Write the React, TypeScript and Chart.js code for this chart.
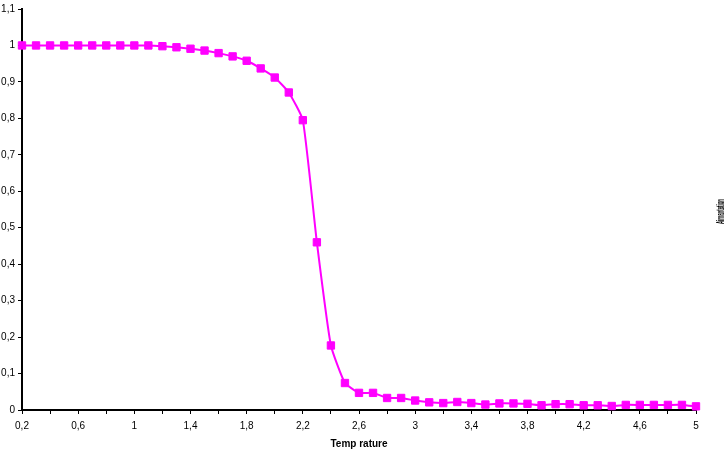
import React, { useEffect, useRef } from "react";
import { Chart, registerables } from "chart.js";

Chart.register(...registerables);

const temperatures = [
  0.2, 0.3, 0.4, 0.5, 0.6, 0.7, 0.8, 0.9, 1.0, 1.1,
  1.2, 1.3, 1.4, 1.5, 1.6, 1.7, 1.8, 1.9, 2.0, 2.1,
  2.2, 2.3, 2.4, 2.5, 2.6, 2.7, 2.8, 2.9, 3.0, 3.1,
  3.2, 3.3, 3.4, 3.5, 3.6, 3.7, 3.8, 3.9, 4.0, 4.1,
  4.2, 4.3, 4.4, 4.5, 4.6, 4.7, 4.8, 4.9, 5.0,
];

const magnetization = [
  1.0, 1.0, 1.0, 1.0, 1.0, 1.0, 1.0, 1.0, 1.0, 1.0,
  0.998, 0.995, 0.991, 0.986, 0.979, 0.97, 0.958, 0.937, 0.912, 0.871,
  0.795, 0.46, 0.177, 0.074, 0.047, 0.047, 0.033, 0.033, 0.026, 0.021,
  0.019, 0.022, 0.019, 0.015, 0.018, 0.018, 0.017, 0.013, 0.016, 0.016,
  0.013, 0.013, 0.011, 0.014, 0.014, 0.014, 0.014, 0.014, 0.01,
];

const xAxisTitle = "Temp rature";
const yAxisTitle = "Aimantation";

const fmt = (v: number) => String(+v.toFixed(1)).replace(".", ",");

const rightTitlePlugin = {
  id: "rightTitle",
  afterDraw(chart: any) {
    const { ctx, chartArea } = chart;
    ctx.save();
    ctx.translate(chart.width - 5, (chartArea.top + chartArea.bottom) / 2 + 2);
    ctx.rotate(-Math.PI / 2);
    ctx.font = "bold 10px 'Liberation Sans'";
    ctx.fillStyle = "#000";
    ctx.textAlign = "center";
    ctx.textBaseline = "middle";
    ctx.fillText(yAxisTitle, 0, 0, 25);
    ctx.restore();
  },
};

export default function App() {
  const ref = useRef<HTMLCanvasElement>(null);

  useEffect(() => {
    if (!ref.current) return;
    const chart = new Chart(ref.current, {
      type: "line",
      data: {
        datasets: [
          {
            data: temperatures.map((t, i) => ({ x: t, y: magnetization[i] })),
            borderColor: "#FF00FF",
            backgroundColor: "#FF00FF",
            borderWidth: 2,
            pointStyle: "rect",
            pointRadius: 5.2,
            pointBorderWidth: 1,
            pointBorderColor: "#FF00FF",
            pointBackgroundColor: "#FF00FF",
            tension: 0.15,
            clip: false as any,
          },
        ],
      },
      options: {
        animation: false,
        responsive: false,
        maintainAspectRatio: false,
        layout: { padding: { top: 4, right: 30, left: 0, bottom: 0 } },
        plugins: { legend: { display: false }, tooltip: { enabled: false } },
        scales: {
          x: {
            type: "linear",
            min: 0.2,
            max: 5,
            afterFit: (s: any) => {
              s.height = 42;
            },
            ticks: {
              stepSize: 0.2,
              autoSkip: false,
              maxRotation: 0,
              padding: 6,
              color: "#000",
              font: { family: "'Liberation Sans'", size: 10 },
              callback: (v: any) => {
                const n = Math.round(Number(v) * 10);
                return n % 4 === 2 ? fmt(Number(v)) : "";
              },
            },
            grid: {
              display: true,
              drawOnChartArea: false,
              drawTicks: true,
              tickLength: 4,
              color: "#000",
              lineWidth: 1,
            },
            border: { display: true, color: "#000", width: 2 },
            title: {
              display: true,
              text: xAxisTitle,
              color: "#000",
              font: { family: "'Liberation Sans'", size: 10, weight: "bold" },
              padding: { top: 0, bottom: 2 },
            },
          },
          y: {
            type: "linear",
            min: 0,
            max: 1.1,
            afterFit: (s: any) => {
              s.width = 22;
            },
            ticks: {
              stepSize: 0.1,
              padding: 3,
              color: "#000",
              font: { family: "'Liberation Sans'", size: 10 },
              callback: (v: any) => fmt(Number(v)),
            },
            grid: {
              display: true,
              drawOnChartArea: false,
              drawTicks: true,
              tickLength: 4,
              color: "#000",
              lineWidth: 1,
            },
            border: { display: true, color: "#000", width: 2 },
          },
        },
      },
      plugins: [rightTitlePlugin],
    });
    return () => chart.destroy();
  }, []);

  return (
    <div style={{ position: "fixed", left: 0, top: 0, width: 726, height: 452, background: "#fff" }}>
      <canvas ref={ref} width={726} height={452} style={{ width: 726, height: 452 }} />
    </div>
  );
}
